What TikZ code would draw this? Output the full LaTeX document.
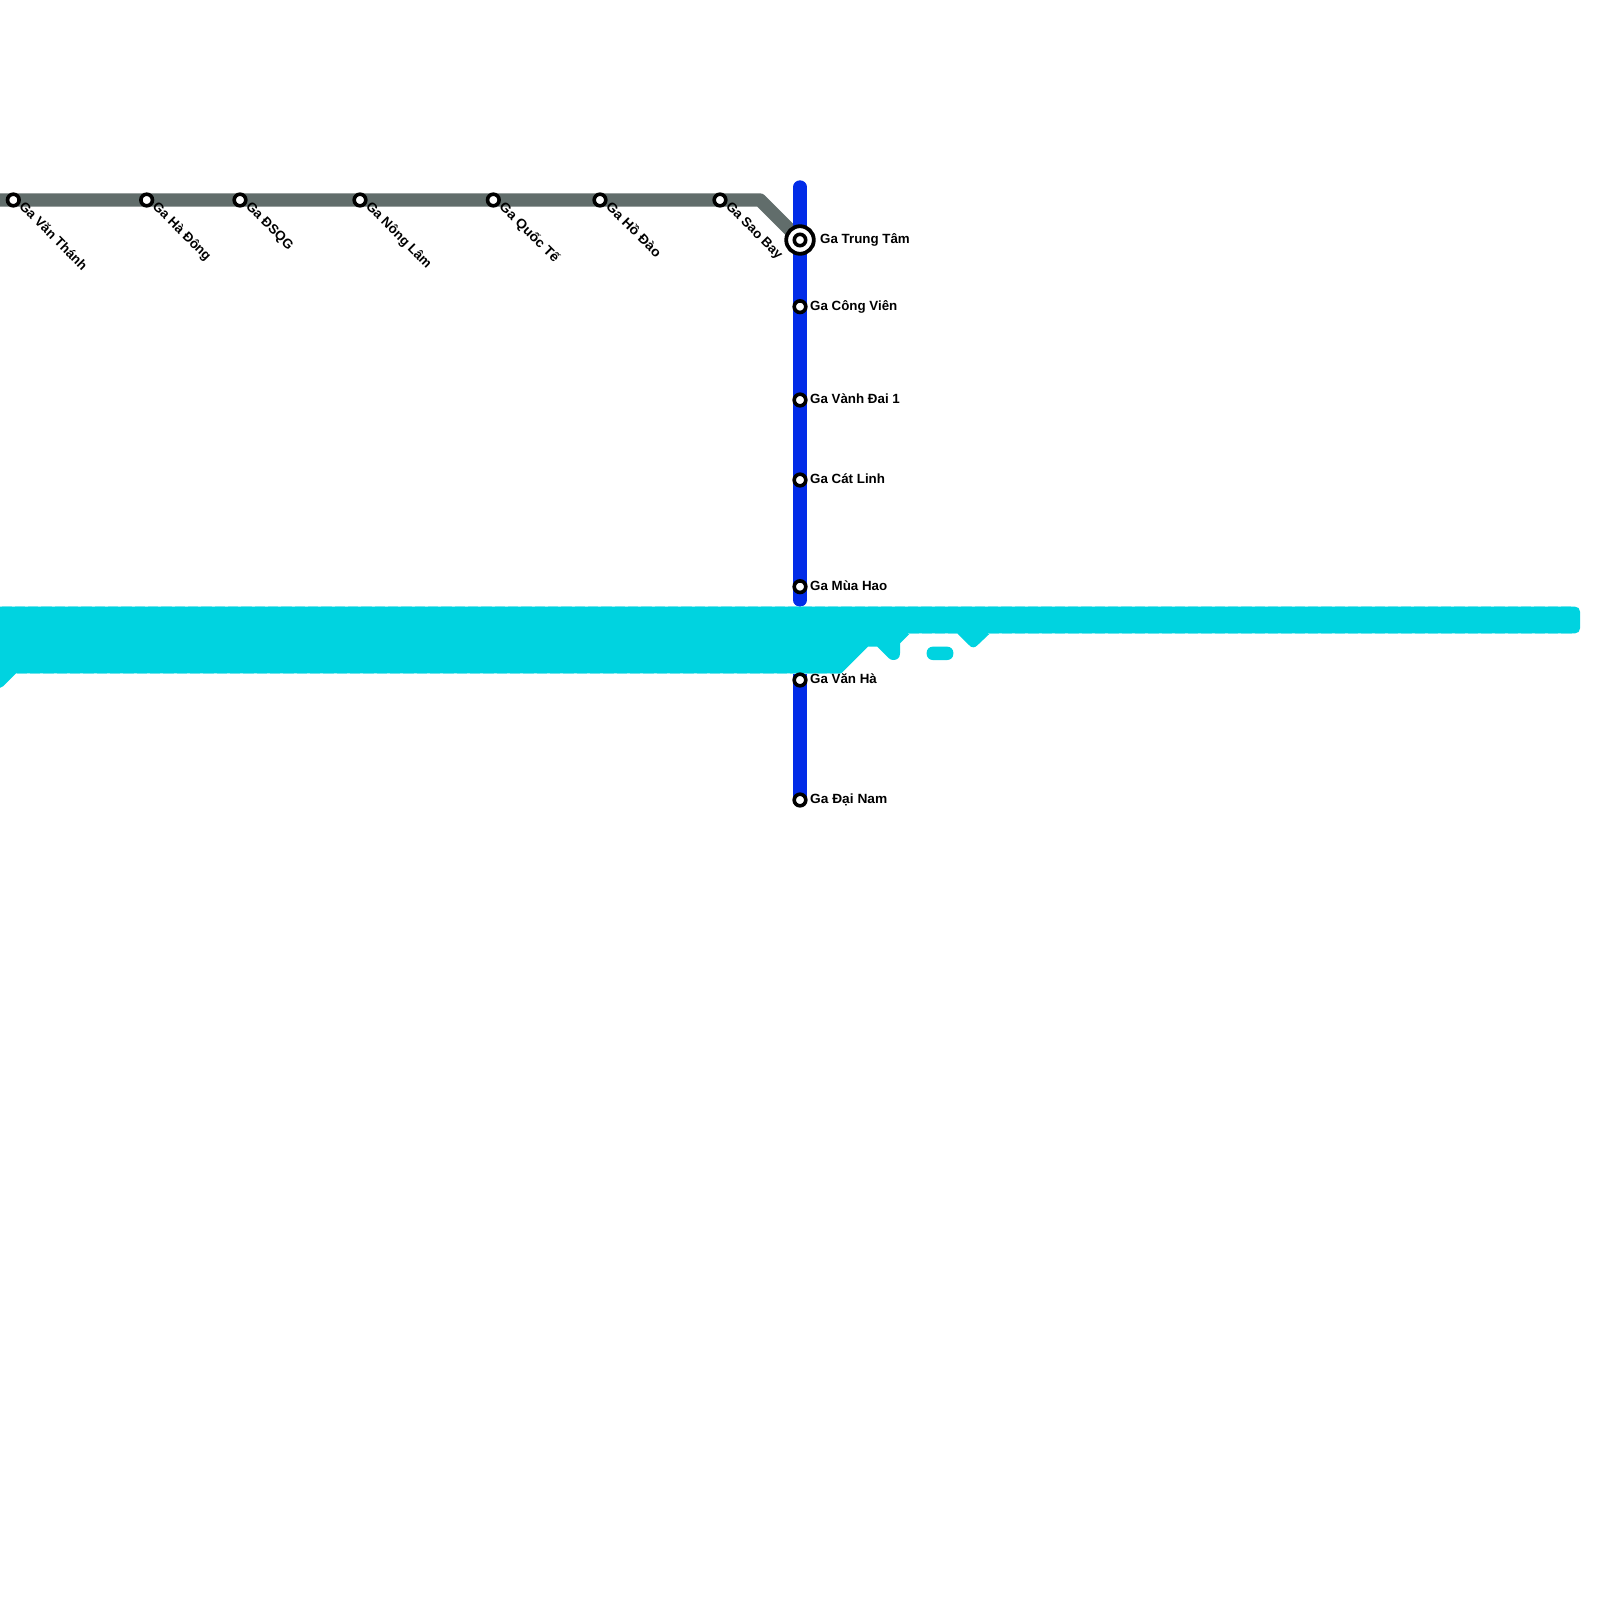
\documentclass[tikz,border=0pt]{standalone}
\usepackage{fontspec}
\setmainfont{Liberation Sans}
\definecolor{cy}{RGB}{0,211,224}
\definecolor{cyl}{RGB}{110,228,236}
\definecolor{gr}{RGB}{97,109,107}
\definecolor{bl}{RGB}{2,44,232}
\tikzset{
 stn/.style={circle,draw=black,fill=white,line width=3.6pt,minimum size=11.6pt,inner sep=0pt},
 hub/.style={circle,draw=black,fill=white,line width=3.8pt,minimum size=27.6pt,inner sep=0pt},
 hubin/.style={circle,draw=black,fill=white,line width=3.6pt,minimum size=11.4pt,inner sep=0pt},
 lbl/.style={font=\bfseries\fontsize{13.33pt}{15pt}\selectfont,text=black,inner sep=0pt,anchor=mid west},
 dlbl/.style={lbl,rotate=-45},
 lineg/.style={draw=gr,line width=13.33pt,line join=round},
 lineb/.style={draw=bl,line width=13.33pt,line cap=round},
 seam/.style={draw=cyl,line width=1pt,dash pattern=on 10.33pt off 3pt}
}
\begin{document}
\begin{tikzpicture}[x=1pt,y=-1pt]
\useasboundingbox (0,0) rectangle (1600,1600);
\fill[white] (0,0) rectangle (1600,1600);
\coordinate (gs) at (-10,200);
\coordinate (gb) at (760,200);
\coordinate (bt) at (800,187);
\coordinate (bm) at (800,600);
\coordinate (bn) at (800,670);
\coordinate (tp) at (800,240);
\coordinate (dn0) at (800,800);
\draw[lineg] (gs) -- (gb) -- (tp);
\draw[lineb] (bt) -- (bm);
\draw[lineb] (bn) -- (dn0);
\fill[cy] (-10,606.67) -- (1575,606.67) .. controls (1578,606.67) and (1580,608.67) .. (1580,611.67) -- (1580,628.33) .. controls (1580,631.33) and (1578,633.33) .. (1575,633.33) -- (990,633.33) -- (978,644.7) .. controls (975,648.2) and (971.6,648.2) .. (968.6,644.7) -- (957.3,633.33) -- (910,633.33) -- (900,643.33) -- (900,653.33) .. controls (900,658) and (897,660) .. (893.33,660) .. controls (891.5,660) and (890,659.4) .. (888.6,658) -- (877.3,646.67) -- (868,646.67) -- (841.33,673.33) -- (16,673.33) -- (3,686.3) .. controls (2,687.3) and (1,687.8) .. (0,687.8) -- (-10,687.8) -- cycle;
\fill[cy,rounded corners=6pt] (926.67,646.67) rectangle (953.33,660);
\draw[seam] (1.5,606.67) -- (1573,606.67);
\draw[seam] (908.17,633.33) -- (957,633.33);
\draw[seam] (988.2,633.33) -- (1573,633.33);
\draw[seam] (16.83,673.33) -- (841,673.33);
\node[stn] (vt) at (13.33,200) {};
\node[stn] (hd) at (146.67,200) {};
\node[stn] (ds) at (240,200) {};
\node[stn] (nl) at (360,200) {};
\node[stn] (qt) at (493.33,200) {};
\node[stn] (ho) at (600,200) {};
\node[stn] (sb) at (720,200) {};
\node[stn] (cv) at (800,306.67) {};
\node[stn] (vd) at (800,400) {};
\node[stn] (cl) at (800,480) {};
\node[stn] (mh) at (800,586.67) {};
\node[stn] (vh) at (800,680) {};
\node[stn] (dn) at (800,800) {};
\node[hub] (tt) at (tp) {};
\node[hubin] (ti) at (tp) {};
\node[dlbl] (l1) at ([shift={(7,5.5)}]vt) {Ga Văn Thánh};
\node[dlbl] (l2) at ([shift={(7,5.5)}]hd) {Ga Hà Đông};
\node[dlbl] (l3) at ([shift={(7,5.5)}]ds) {Ga ĐSQG};
\node[dlbl] (l4) at ([shift={(7,5.5)}]nl) {Ga Nông Lâm};
\node[dlbl,xscale=1.05] (l5) at ([shift={(7,5.5)}]qt) {Ga Quốc Tế};
\node[dlbl,xscale=1.05] (l6) at ([shift={(7,5.5)}]ho) {Ga Hồ Đào};
\node[dlbl] (l7) at ([shift={(7,5.5)}]sb) {Ga Sao Bay};
\node[lbl] (l8) at (820,241) {Ga Trung Tâm};
\node[lbl] (l9) at (810,308) {Ga Công Viên};
\node[lbl] (l10) at (810,401) {Ga Vành Đai 1};
\node[lbl] (l11) at (810,481) {Ga Cát Linh};
\node[lbl] (l12) at (810,588) {Ga Mùa Hao};
\node[lbl] (l13) at (810,681) {Ga Văn Hà};
\node[lbl,xscale=1.03] (l14) at (810,801) {Ga Đại Nam};
\end{tikzpicture}
\end{document}
